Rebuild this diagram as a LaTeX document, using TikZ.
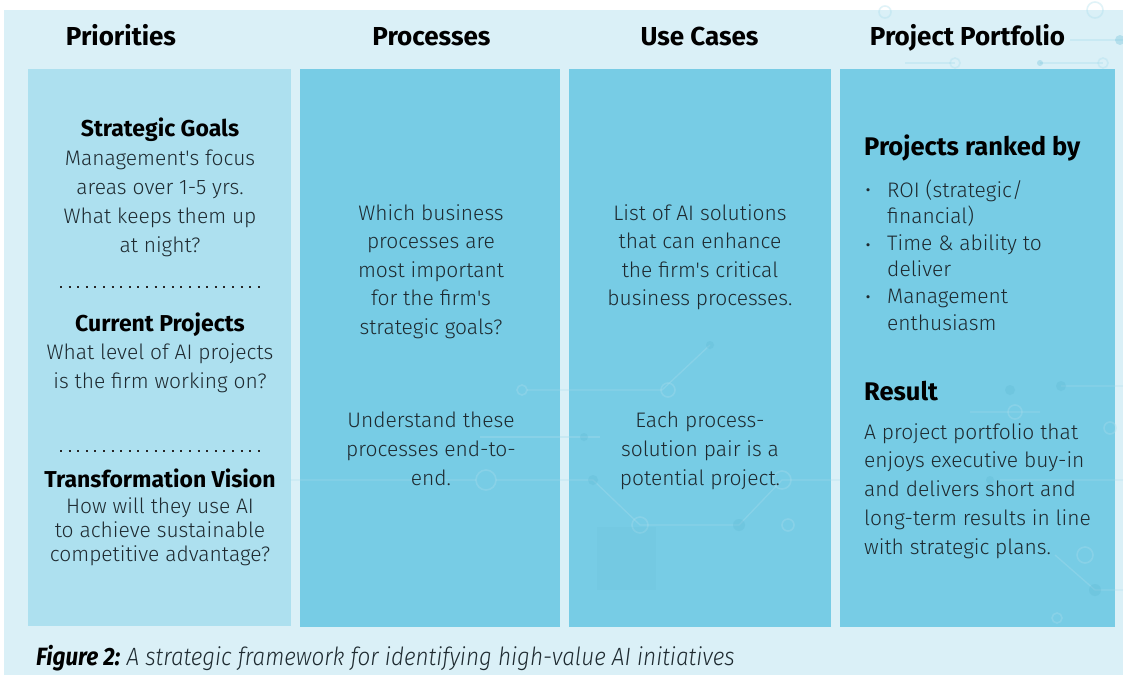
\documentclass[tikz,border=0pt]{standalone}
\usepackage{fontspec}
\setmainfont{Fira Sans Light}[Ligatures=TeXOff, BoldFont={Fira Sans Bold}, ItalicFont={Fira Sans Light Italic}, BoldItalicFont={Fira Sans Bold Italic}]
\newfontfamily\capfont{Fira Sans Light}[FakeStretch=0.9, ItalicFont={Fira Sans Light Italic}, BoldItalicFont={Fira Sans Bold Italic}, BoldFont={Fira Sans Bold}]
\definecolor{bgc}{HTML}{DAF0F7}
\definecolor{colA}{HTML}{ADE0EF}
\definecolor{colB}{HTML}{77CCE5}
\definecolor{txt}{HTML}{1E2A30}
\definecolor{circ}{HTML}{A8DDEC}
\definecolor{padc}{HTML}{5FB9D4}
\tikzset{
  body/.style={font=\fontsize{21}{29}\selectfont, text=txt, inner sep=0pt, anchor=base},
  bodyl/.style={body, anchor=base west},
  hd/.style={font=\fontsize{26}{30}\selectfont\bfseries, text=black, inner sep=0pt, anchor=base},
  sub/.style={font=\fontsize{23}{29}\selectfont\bfseries, text=black, inner sep=0pt, anchor=base},
  hdl/.style={font=\fontsize{25.5}{30}\selectfont\bfseries, text=black, inner sep=0pt, anchor=base west},
  dotsep/.style={line width=2pt, dash pattern=on 2pt off 6.6pt, color=black!85},
  wire/.style={draw=circ, line width=1.3pt, opacity=0.35},
  ring/.style={draw=circ, line width=1.6pt, opacity=0.35},
  pad/.style={fill=padc, opacity=0.3},
}
\begin{document}
\begin{tikzpicture}[x=1pt,y=-1pt]
\useasboundingbox (0,0) rectangle (1123,675);
\fill[white] (0,0) rectangle (1123,675);
\fill[bgc] (4,10) rectangle (1123,675);
% faint circuit decoration on background
\draw[wire] (905,63) -- (955,63) (1040,63) -- (1103,63) (1070,40) -- (1123,40);
\draw[ring] (885,12) circle (6) (1095,10) circle (8) (955,63) circle (5) (1103,63) circle (5);
\fill[pad] (1120,40) circle (5) (1040,63) circle (3);
% columns
\fill[colA] (28,69) rectangle (291,626);
\fill[colB] (300,69) rectangle (560,627);
\fill[colB] (569,69) rectangle (831,627);
\fill[colB] (840,69) rectangle (1115,627);
% faint circuit decoration on columns
\draw[wire] (527,390) -- (662,390) -- (710,345);
\draw[wire] (290,480) -- (476,480) (496,480) -- (593,480) -- (640,525) -- (739,525) -- (782,480) -- (840,480);
\draw[wire] (480,437) -- (600,437);
\draw[ring] (522,390) circle (5) (668,390) circle (7) (486,480) circle (10) (640,525) circle (8) (782,480) circle (9) (788,525) circle (6);
\fill[pad] (710,345) circle (4) (593,480) circle (5) (739,525) circle (6) (584,437) circle (4);
\fill[padc, opacity=0.12] (597,527) rectangle (656,590);
\draw[wire] (970,412) -- (1040,412) (1061,386) -- (1123,386) (1055,555) -- (1095,590) -- (1123,590) (1000,480) -- (1123,480);
\draw[ring] (1015,412) circle (7) (1110,428) circle (6) (1057,618) circle (5) (1085,555) circle (8);
\fill[pad] (1010,390) circle (5) (1061,386) circle (5) (990,480) circle (4) (1095,590) circle (6);
% headers
\node[hd] (hPri) at (121,45) {Priorities};
\node[hd] (hPro) at (431.5,45) {Processes};
\node[hd] (hUse) at (699.5,45) {Use Cases};
\node[hd] (hPort) at (967.5,45) {Project Portfolio};
% column 1
\node[sub] (sg) at (160,136) {Strategic Goals};
\foreach \t [count=\i from 0] in {{Management's focus},{areas over 1-5 yrs.},{What keeps them up},{at night?}}
  \node[body] (sg\i) at (160,165+29*\i) {\t};
\draw[dotsep] (60,287) -- (262,287);
\node[sub] (cp) at (160,331) {Current Projects};
\foreach \t [count=\i from 0] in {{What level of AI projects},{is the firm working on?}}
  \node[body] (cp\i) at (160,359+29*\i) {\t};
\draw[dotsep] (60,451) -- (262,451);
\node[sub] (tv) at (160,487) {Transformation Vision};
\foreach \t [count=\i from 0] in {{How will they use AI},{to achieve sustainable},{competitive advantage?}}
  \node[body] (tv\i) at (160,513+24*\i) {\t};
% column 2
\foreach \t [count=\i from 0] in {{Which business},{processes are},{most important},{for the firm's},{strategic goals?}}
  \node[body] (pa\i) at (431,220+28.5*\i) {\t};
\foreach \t [count=\i from 0] in {{Understand these},{processes end-to-},{end.}}
  \node[body] (pb\i) at (431,427+29*\i) {\t};
% column 3
\foreach \t [count=\i from 0] in {{List of AI solutions},{that can enhance},{the firm's critical},{business processes.}}
  \node[body] (ua\i) at (700,220+28.5*\i) {\t};
\foreach \t [count=\i from 0] in {{Each process-},{solution pair is a},{potential project.}}
  \node[body] (ub\i) at (700,427+29*\i) {\t};
% column 4
\node[hdl] (rk) at (864,155) {Projects ranked by};
\foreach \y [count=\i] in {197,252,304}
  \node[body] (bl\i) at (868,\y) {•};
\foreach \t [count=\i from 0] in {{ROI (strategic/},{financial)},{Time \& ability to},{deliver},{Management},{enthusiasm}}
  \node[bodyl] (rl\i) at (887,197+26.6*\i) {\t};
\node[hdl] (rs) at (864,400) {Result};
\foreach \t [count=\i from 0] in {{A project portfolio that},{enjoys executive buy-in},{and delivers short and},{long-term results in line},{with strategic plans.}}
  \node[bodyl] (rt\i) at (864,439+28.8*\i) {\t};
% caption
\node[inner sep=0pt, anchor=base west, font=\capfont\fontsize{25}{28}\selectfont\itshape, text=txt] (cap) at (36,665)
  {{\bfseries\color{black}Figure 2:}\hspace{-2pt} A strategic framework for identifying high-value AI initiatives};
\end{tikzpicture}
\end{document}
